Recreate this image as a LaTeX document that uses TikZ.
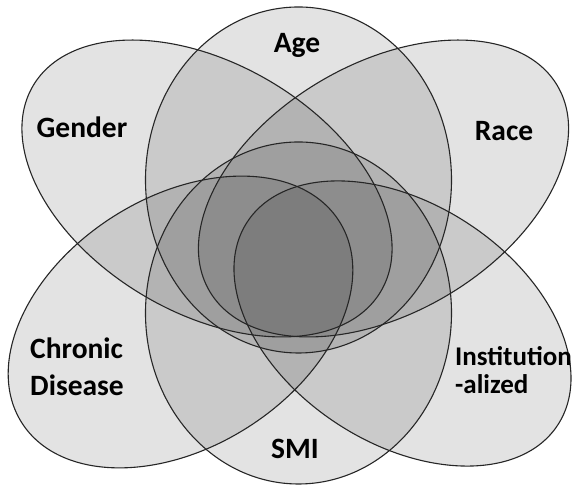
\documentclass[tikz,border=0pt]{standalone}
\usepackage{fontspec}
\setmainfont{Carlito}
\begin{document}
\begin{tikzpicture}[x=1pt,y=1pt,
  venn/.style={fill=black, fill opacity=0.11, draw=none},
  rim/.style={draw=black!85, line width=1.1pt, fill=none},
  lbl/.style={font=\bfseries\fontsize{27}{30}\selectfont, inner sep=0pt, text=black},
  biglbl/.style={lbl, font=\bfseries\fontsize{29.5}{32}\selectfont}]
\useasboundingbox (0,0) rectangle (574,486);
\fill[white] (0,0) rectangle (574,486);
% cx / cy / a / b / rotation
\def\shapes{298.5/306/153/173/0, 298.5/173/153/171/0, 207/297.5/202/124.4/-30.6, 383.5/297.5/202/124.4/30.6, 180.5/164/188/125/32.4, 402.5/162.5/185.5/119.6/-33.2}
\foreach \cx/\cy/\a/\b/\r in \shapes {
  \path[venn, rotate around={\r:(\cx,\cy)}] (\cx,\cy) ellipse [x radius=\a pt, y radius=\b pt];
}
\foreach \cx/\cy/\a/\b/\r in \shapes {
  \path[rim, rotate around={\r:(\cx,\cy)}] (\cx,\cy) ellipse [x radius=\a pt, y radius=\b pt];
}
\node[biglbl, anchor=base] (age) at (297,433) {Age};
\node[biglbl, anchor=base] (gender) at (82,348) {Gender};
\node[biglbl, anchor=base] (race) at (504,345) {Race};
\node[biglbl, anchor=base west] (chronic) at (30,127) {Chronic};
\node[biglbl, anchor=base west] (disease) at (30,90) {Disease};
\node[lbl, anchor=base west] (inst) at (455,120) {Institution};
\node[lbl, anchor=base west] (alized) at (455,92) {-alized};
\node[biglbl, anchor=base] (smi) at (295,27) {SMI};
\end{tikzpicture}
\end{document}
